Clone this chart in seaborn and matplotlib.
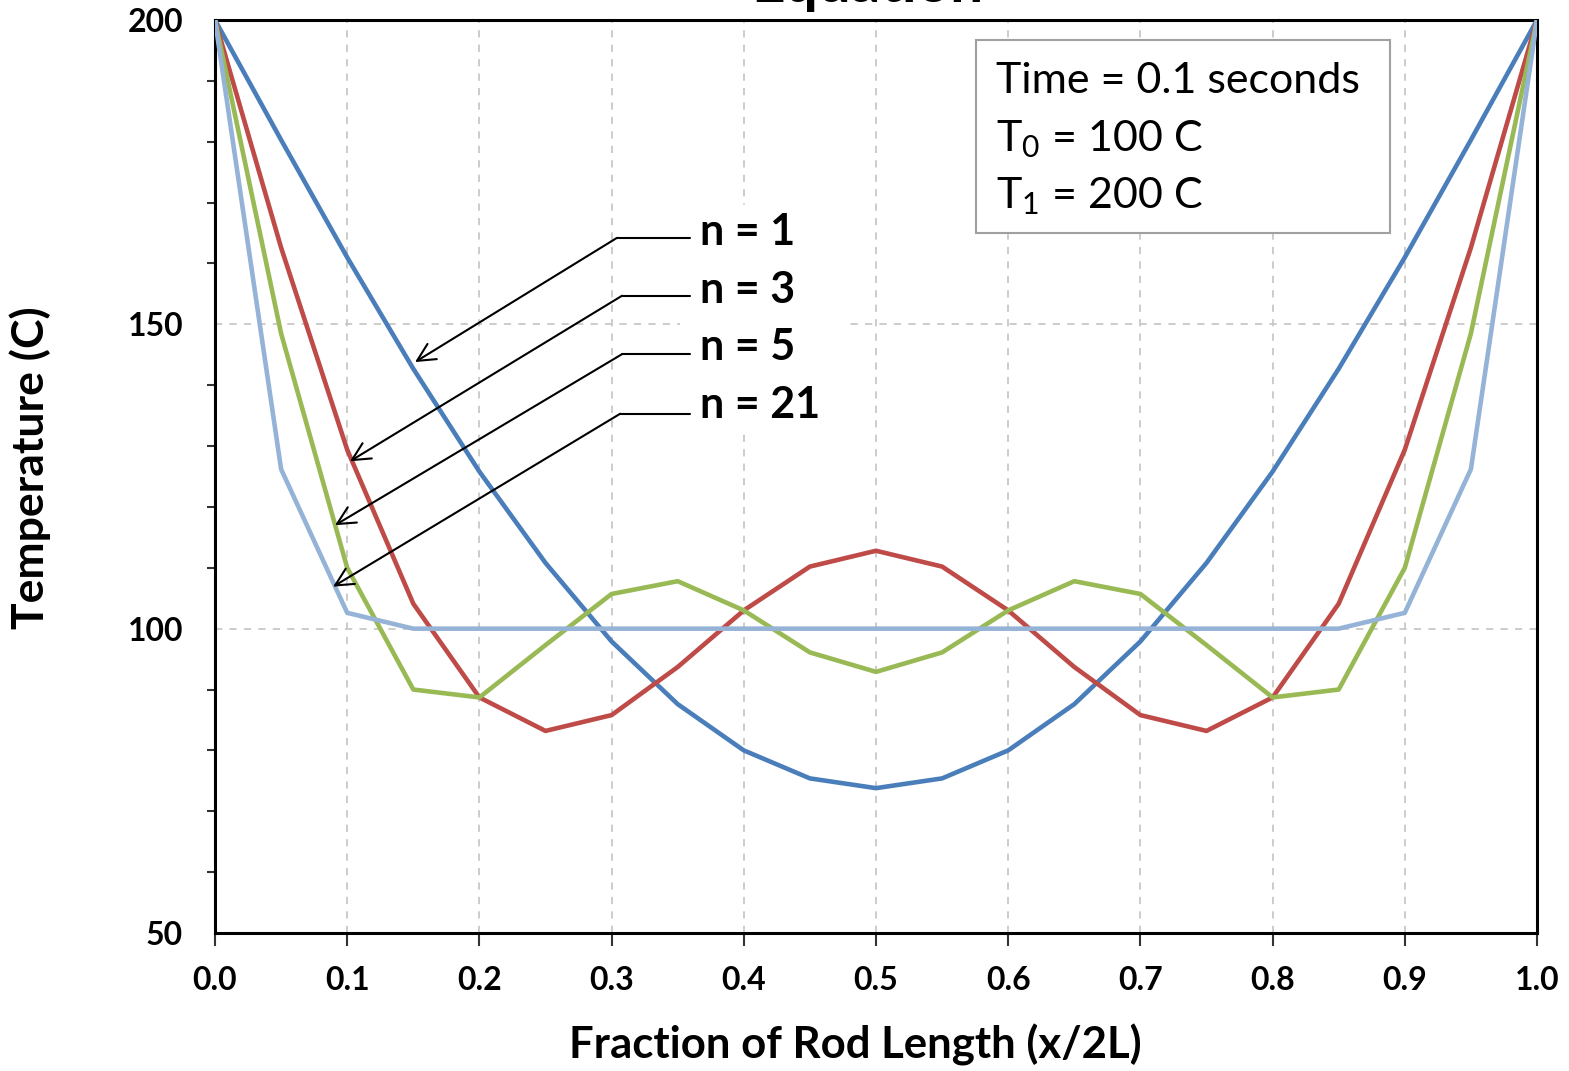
import matplotlib
matplotlib.use("Agg")
import matplotlib.pyplot as plt
from matplotlib.patches import Rectangle
import pandas as pd
import seaborn as sns

# values
x_frac = [0.0, 0.05, 0.1, 0.15, 0.2, 0.25, 0.3, 0.35, 0.4, 0.45, 0.5,
          0.55, 0.6, 0.65, 0.7, 0.75, 0.8, 0.85, 0.9, 0.95, 1.0]
temp_n1 = [200.0, 180.3, 161.0, 142.7, 125.8, 110.8, 97.9, 87.6, 80.0, 75.4, 73.8,
           75.4, 80.0, 87.6, 97.9, 110.8, 125.8, 142.7, 161.0, 180.3, 200.0]
temp_n3 = [200.0, 162.6, 129.4, 104.1, 88.7, 83.2, 85.8, 93.7, 103.0, 110.2, 112.8,
           110.2, 103.0, 93.7, 85.8, 83.2, 88.7, 104.1, 129.4, 162.6, 200.0]
temp_n5 = [200.0, 148.5, 110.0, 90.0, 88.7, 97.3, 105.7, 107.8, 103.0, 96.1, 92.9,
           96.1, 103.0, 107.8, 105.7, 97.3, 88.7, 90.0, 110.0, 148.5, 200.0]
temp_n21 = [200.0, 126.2, 102.6, 100.0, 100.0, 100.0, 100.0, 100.0, 100.0, 100.0, 100.0,
            100.0, 100.0, 100.0, 100.0, 100.0, 100.0, 100.0, 102.6, 126.2, 200.0]
series_names = ["n = 1", "n = 3", "n = 5", "n = 21"]
series_colors = ["#4A7EBB", "#BE4B48", "#98B954", "#95B3D7"]

info_lines = ["Time = 0.1 seconds", r"T$_\mathregular{0}$ = 100 C", r"T$_\mathregular{1}$ = 200 C"]

# long-form table for seaborn
df = pd.DataFrame({"x": x_frac, "n = 1": temp_n1, "n = 3": temp_n3,
                   "n = 5": temp_n5, "n = 21": temp_n21})
df = df.melt(id_vars="x", var_name="Series", value_name="T")

sns.set_theme(style="white")
plt.rcParams["font.family"] = ["Lato", "DejaVu Sans"]
plt.rcParams["mathtext.fontset"] = "custom"
plt.rcParams["mathtext.rm"] = "Lato"
plt.rcParams["mathtext.it"] = "Lato:italic"
plt.rcParams["mathtext.bf"] = "Lato:bold"
plt.rcParams.update({"text.color": "black", "axes.labelcolor": "black",
                     "xtick.color": "black", "ytick.color": "black"})

fig = plt.figure(figsize=(15.69, 10.71), dpi=100)
ax = fig.add_axes([215 / 1569, 1 - 933 / 1071, 1322 / 1569, 913 / 1071])

sns.lineplot(data=df, x="x", y="T", hue="Series", hue_order=series_names,
             palette=dict(zip(series_names, series_colors)), linewidth=3.3,
             sort=False, legend=False, ax=ax, zorder=3)

ax.set_xlim(0, 1)
ax.set_ylim(50, 200)
ax.set_xticks([i / 10 for i in range(11)])
ax.set_xticklabels([f"{i / 10:.1f}" for i in range(11)])
ax.set_yticks([50, 100, 150, 200])
ax.set_yticks(range(50, 201, 10), minor=True)

ax.grid(True, which="major", color="#C8C8C8", linestyle=(0, (4, 4)), linewidth=1.3)
ax.set_axisbelow(True)

for s in ax.spines.values():
    s.set_color("black")
    s.set_linewidth(2.2)

ax.tick_params(axis="both", which="both", direction="out", color="#333333", width=1.5)
ax.tick_params(axis="y", which="major", length=8, pad=15, labelsize=23)
ax.tick_params(axis="y", which="minor", length=6, left=True)
ax.tick_params(axis="x", which="major", length=9, pad=15, labelsize=23, bottom=True)
for lab in ax.get_xticklabels() + ax.get_yticklabels():
    lab.set_fontweight("bold")

ax.set_xlabel("Fraction of Rod Length (x/2L)", fontsize=31.5, fontweight="bold")
ax.set_ylabel("Temperature (C)", fontsize=32, fontweight="bold")
ax.xaxis.set_label_coords(0.484, -0.100)
ax.yaxis.set_label_coords(-0.124, 0.510)

# title sits mostly above the canvas, only its bottom is visible
fig.text(0.553, 1 - 2 / 1071, "Equation", ha="center", va="baseline",
         fontsize=42, fontweight="bold")

# info box
ax.add_patch(Rectangle((0.5756, 0.7667), 0.3132, 0.2113, transform=ax.transAxes,
                       facecolor="white", edgecolor="#A0A0A0", linewidth=1.5, zorder=4))
for txt, yy in zip(info_lines, [0.920, 0.8565, 0.794]):
    ax.text(0.5908, yy, txt, transform=ax.transAxes, fontsize=31,
            va="baseline", ha="left", zorder=5)

# white patch behind the n labels
ax.add_patch(Rectangle((0.352, 132.6), 0.128, 37.0, facecolor="white",
                       edgecolor="none", zorder=2))

# leader lines with arrows
tips = [(0.1513, 143.8), (0.1021, 127.5), (0.0908, 117.0), (0.0893, 106.9)]
knees = [(0.304, 164.2), (0.3079, 154.7), (0.3079, 145.1), (0.3064, 135.3)]
label_y = [0.7536, 0.690, 0.6276, 0.5641]
for name, tip, knee, ly in zip(series_names, tips, knees, label_y):
    ax.plot([knee[0], 0.359], [knee[1], knee[1]], color="black", lw=1.5, zorder=5)
    ax.annotate("", xy=tip, xytext=knee,
                arrowprops=dict(arrowstyle="->", color="black", lw=1.5,
                                mutation_scale=32, shrinkA=0, shrinkB=0), zorder=5)
    ax.text(0.3669, ly, name, transform=ax.transAxes, fontsize=31,
            fontweight="bold", va="baseline", ha="left", zorder=5)

fig.savefig("out.png", dpi=100)
